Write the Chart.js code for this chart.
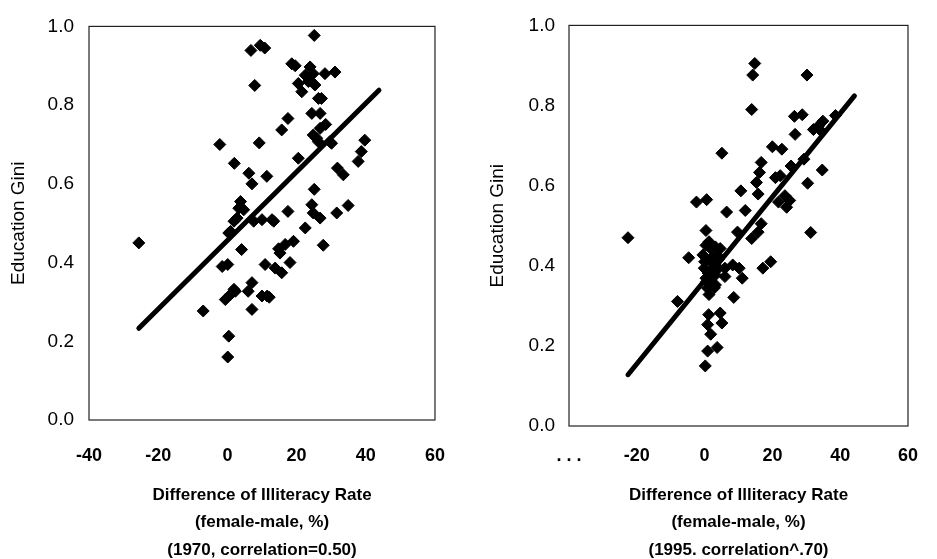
<!DOCTYPE html>
<html>
<head>
<meta charset="utf-8">
<script src="https://cdn.jsdelivr.net/npm/chart.js@4"></script>
<style>
  html, body { margin: 0; padding: 0; background: #fff; overflow: hidden; }
  #wrap { position: relative; width: 937px; height: 559px; }
  .box { position: absolute; top: 0; height: 559px; }
  #left { left: 0; width: 470px; }
  #right { left: 470px; width: 467px; }
</style>
</head>
<body>
<div id="wrap">
  <div class="box" id="left"><canvas id="chart1970"></canvas></div>
  <div class="box" id="right"><canvas id="chart1995"></canvas></div>
</div>
<script>
// 1970: difference of illiteracy rate (female-male, %) vs education Gini
const x1970 = [-25.6, -7.0, -2.2, 0.1, 0.4, -0.6, 0.1, -1.5, 2.0, 2.3, 0.9, 2.8, 3.8, 4.7, 4.1,
  6.2, 7.1, 6.8, 7.9, 9.5, 10.8, 9.2, 11.4, 7.1, 7.1, 6.0, 10.0, 12.1, 10.9, 7.6, 10.0, 12.9,
  13.8, 15.7, 15.2, 16.7, 19.1, 18.1, 17.5, 15.7, 17.5, 18.6, 19.6, 20.5, 22.5, 20.5, 21.5,
  22.5, 23.9, 23.9, 25.3, 25.1, 24.4, 26.8, 26.3, 27.2, 24.8, 26.8, 28.4, 28.2, 31.1, 25.1,
  24.4, 24.8, 26.8, 27.7, 29.6, 31.6, 31.8, 33.5, 34.9, 37.8, 38.7, 39.7,
  3.3, 1.9, 0.4, 0.9, 1.9, 25.8, 26.3, 23.4, 24.8, 30.1, 13.4, 14.8, 11.5];
const y1970 = [0.450, 0.277, 0.700, 0.160, 0.213, 0.306, 0.395, 0.390, 0.652, 0.327, 0.479, 0.513, 0.555, 0.534, 0.433,
  0.627, 0.600, 0.939, 0.850, 0.952, 0.945, 0.704, 0.619, 0.281, 0.349, 0.327, 0.315, 0.312, 0.395, 0.505, 0.509, 0.509,
  0.386, 0.374, 0.424, 0.446, 0.454, 0.400, 0.530, 0.737, 0.766, 0.905, 0.900, 0.665, 0.488, 0.855, 0.834,
  0.876, 0.897, 0.863, 0.851, 0.977, 0.779, 0.779, 0.817, 0.817, 0.724, 0.741, 0.751, 0.880, 0.884, 0.586,
  0.547, 0.526, 0.513, 0.444, 0.707, 0.526, 0.640, 0.623, 0.545, 0.657, 0.682, 0.711,
  0.538, 0.505, 0.475, 0.319, 0.332, 0.716, 0.707, 0.860, 0.880, 0.703, 0.505, 0.435, 0.315];
const fit1970X = [-25.6, 43.8];
const fit1970Y = [0.233, 0.838];

// 1995
const x1995 = [-22.6, -4.7, -8.0, -2.4, 0.6, 0.4, 5.1, 6.5, 0.2, 0.9, 3.7, 1.8, 1.2, 4.6, 5.1, 0.9,
  8.6, 11.1, 10.2, 8.3, 9.7, 12.0, 10.7, 13.9, 14.2, 14.8, 16.7, 15.3, 15.8, 16.2, 13.9, 15.8, 16.7,
  17.2, 19.5, 20.0, 22.8, 20.9, 22.3, 21.8, 23.7, 25.1, 24.2, 25.5, 26.7, 26.5, 28.8, 30.2, 29.3,
  30.4, 31.3, 32.1, 34.7, 34.9, 33.5, 38.6, 34.4,
  -0.5, -0.1, 0.4, 0.9, 1.3, 1.8, 2.3, 2.7, 3.2, 3.7, 4.1, 4.6, 3.2, 1.8, 6.0, 6.0, 0.4, 1.3, 3.2,
  0.0, 1.0, 2.0, 2.5, 1.5, 0.6, 2.9, 4.0];
const y1995 = [0.470, 0.420, 0.311, 0.559, 0.565, 0.488, 0.681, 0.534, 0.150, 0.187, 0.196, 0.229, 0.278, 0.282, 0.257, 0.253,
  0.321, 0.369, 0.394, 0.402, 0.484, 0.538, 0.587, 0.790, 0.876, 0.905, 0.658, 0.608, 0.579, 0.633, 0.468, 0.484, 0.505,
  0.394, 0.410, 0.697, 0.691, 0.620, 0.625, 0.559, 0.575, 0.563, 0.546, 0.649, 0.728, 0.773, 0.777, 0.876, 0.666,
  0.606, 0.483, 0.740, 0.639, 0.761, 0.748, 0.775, 0.736,
  0.427, 0.394, 0.369, 0.344, 0.328, 0.443, 0.418, 0.394, 0.377, 0.427, 0.394, 0.443, 0.352, 0.356, 0.373, 0.394, 0.451, 0.460, 0.447,
  0.410, 0.382, 0.360, 0.405, 0.415, 0.360, 0.345, 0.415];
const fit1995X = [-22.6, 44.2];
const fit1995Y = [0.128, 0.824];

const xTicks = [-40, -20, 0, 20, 40, 60];
const yTicks = [0.0, 0.2, 0.4, 0.6, 0.8, 1.0];

Chart.defaults.color = '#000';
Chart.defaults.font.family = "'Liberation Sans', Arial, sans-serif";

// thin frame round the plot area
const frame = {
  id: 'frame',
  afterDraw(chart) {
    const a = chart.chartArea, ctx = chart.ctx;
    ctx.save();
    ctx.strokeStyle = '#222';
    ctx.lineWidth = 1.2;
    ctx.strokeRect(a.left, a.top, a.right - a.left, a.bottom - a.top);
    ctx.restore();
  }
};

function makeChart(id, xs, ys, fitX, fitY, yearLine, o) {
  const pts = xs.map((x, i) => ({x: x, y: ys[i]}));
  const fit = fitX.map((x, i) => ({x: x, y: fitY[i]}));
  return new Chart(document.getElementById(id), {
    type: 'scatter',
    data: {
      datasets: [{
        data: pts,
        pointStyle: 'rectRot',
        pointRadius: 6,
        backgroundColor: '#000',
        borderColor: '#000',
        borderWidth: 1
      }, {
        type: 'line',
        data: fit,
        borderColor: '#000',
        borderWidth: 5,
        borderCapStyle: 'round',
        pointRadius: 0,
        fill: false
      }]
    },
    options: {
      responsive: true,
      maintainAspectRatio: false,
      animation: false,
      layout: { padding: { top: o.top, right: o.right, left: 0, bottom: 0 } },
      plugins: { legend: { display: false }, tooltip: { enabled: false } },
      scales: {
        x: {
          type: 'linear',
          min: -40, max: 60,
          afterBuildTicks: s => { s.ticks = xTicks.map(v => ({value: v})); },
          afterFit: s => { s.height = o.xHeight; },
          grid: { display: false, drawTicks: false },
          border: { display: false },
          ticks: {
            padding: o.xPad,
            font: { size: 18, weight: 'bold' },
            callback: v => (o.hideFirst && v === -40) ? '. . .' : String(v)
          },
          title: {
            display: true,
            text: ['Difference of Illiteracy Rate', '(female-male, %)', yearLine],
            font: { size: 17, weight: 'bold', lineHeight: 1.6 },
            padding: { top: 0, bottom: -4.6 }
          }
        },
        y: {
          min: 0, max: 1,
          afterBuildTicks: s => { s.ticks = yTicks.map(v => ({value: v})); },
          afterFit: s => { s.width = o.yWidth; },
          grid: { display: false, drawTicks: false },
          border: { display: false },
          ticks: {
            padding: o.yPad,
            font: { size: 19 },
            callback: v => v.toFixed(1)
          },
          title: {
            display: true,
            text: 'Education Gini',
            font: { size: 19 },
            padding: { top: o.yTitlePad, bottom: 0 }
          }
        }
      }
    },
    plugins: [frame]
  });
}

makeChart('chart1970', x1970, y1970, fit1970X, fit1970Y, '(1970, correlation=0.50)',
  { top: 24, right: 33, xHeight: 139, xPad: 25, yWidth: 89, yPad: 15, yTitlePad: 7.5, hideFirst: false });
makeChart('chart1995', x1995, y1995, fit1995X, fit1995Y, '(1995. correlation^.70)',
  { top: 22, right: 10, xHeight: 133, xPad: 19, yWidth: 99, yPad: 14, yTitlePad: 16.5, hideFirst: true });
</script>
</body>
</html>
